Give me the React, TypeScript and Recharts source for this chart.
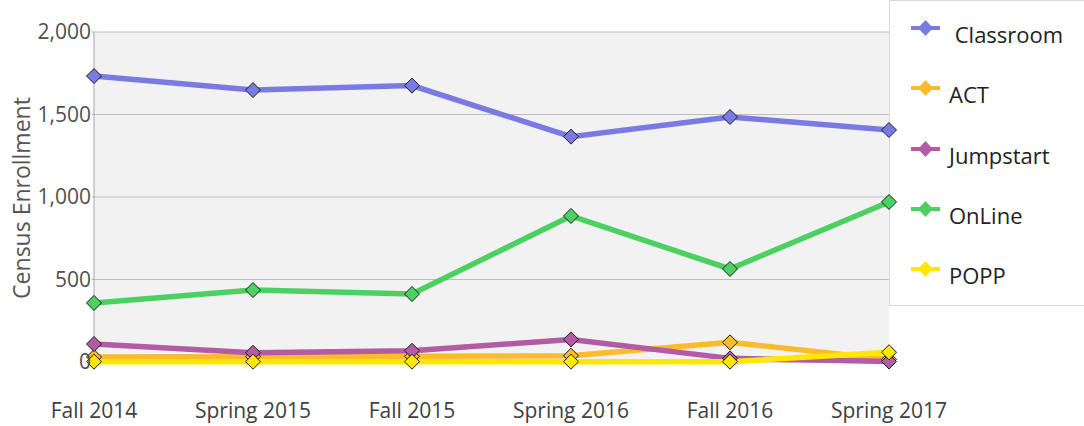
import React from 'react';
import { LineChart, Line, XAxis, YAxis, CartesianGrid, Legend } from 'recharts';

const categories = ['Fall 2014', 'Spring 2015', 'Fall 2015', 'Spring 2016', 'Fall 2016', 'Spring 2017'];
const classroom = [1733, 1648, 1675, 1366, 1485, 1406];
const act = [30, 32, 35, 38, 119, 16];
const jumpstart = [109, 56, 68, 137, 22, 3];
const online = [358, 436, 412, 885, 564, 970];
const popp = [2, 2, 2, 2, 2, 59];
const yTicks = [0, 500, 1000, 1500, 2000];

const seriesNames = [' Classroom', 'ACT', 'Jumpstart', 'OnLine', 'POPP'];
const seriesKeys = ['classroom', 'act', 'jumpstart', 'online', 'popp'];
const seriesColors = ['#7a7ae3', '#fbbb2b', '#b35ba4', '#4cd062', '#ffe800'];
const seriesValues = [classroom, act, jumpstart, online, popp];

const data = categories.map((cat, i) => {
  const row: Record<string, any> = { cat };
  seriesKeys.forEach((k, s) => {
    row[k] = seriesValues[s][i];
  });
  return row;
});

const FONT = '"Open Sans", "DejaVu Sans", sans-serif';

const makeDiamond = (color: string) => (props: any) => {
  const { cx, cy, index } = props;
  if (cx == null || cy == null) return <g key={`d-${index}`} />;
  const r = 7.5;
  return (
    <path
      key={`d-${index}`}
      d={`M${cx},${cy - r}L${cx + r},${cy}L${cx},${cy + r}L${cx - r},${cy}Z`}
      fill={color}
      stroke="#1c1c1c"
      strokeWidth={1}
    />
  );
};

const XTick = (props: any) => {
  const { x, y, payload } = props;
  return (
    <text x={x} y={y} dy={56} textAnchor="middle" fontSize={21} fill="#404040" fontFamily={FONT}>
      {payload.value}
    </text>
  );
};

const YTick = (props: any) => {
  const { x, y, payload } = props;
  return (
    <text
      x={x}
      y={y}
      dy={7}
      textAnchor="end"
      fontSize={21}
      fill="#505050"
      fontFamily={FONT}
    >
      {Number(payload.value).toLocaleString('en-US')}
    </text>
  );
};

const YLabel = (props: any) => {
  const vb = props.viewBox || { x: 0, y: 0, width: 0, height: 0 };
  const cx = vb.x + 21;
  const cy = vb.y + vb.height / 2 + 1;
  return (
    <text
      x={cx}
      y={cy}
      transform={`rotate(-90, ${cx}, ${cy})`}
      textAnchor="middle"
      dominantBaseline="central"
      fontSize={23}
      fill="#555555"
      fontFamily={FONT}
    >
      Census Enrollment
    </text>
  );
};

const LegendContent = () => (
  <div
    style={{
      position: 'absolute',
      left: 0,
      top: 0,
      width: 220,
      height: 306,
      border: '1px solid #d9d9d9',
      background: '#ffffff',
      boxSizing: 'border-box',
      fontFamily: FONT,
    }}
  >
    {seriesNames.map((name, i) => {
      const iconY = 27 + i * 60.3;
      return (
        <div key={name}>
          <svg
            width={32}
            height={18}
            style={{ position: 'absolute', left: 20, top: iconY - 9 }}
          >
            <line x1={1} y1={9} x2={30} y2={9} stroke={seriesColors[i]} strokeWidth={4} />
            <path d="M15.5,1L23,9L15.5,17L8,9Z" fill={seriesColors[i]} />
          </svg>
          <span
            style={{
              position: 'absolute',
              left: 59,
              top: iconY + 6 - 15,
              fontSize: 22,
              lineHeight: '30px',
              color: '#222222',
              whiteSpace: 'pre',
            }}
          >
            {name}
          </span>
        </div>
      );
    })}
  </div>
);

export default function App() {
  return (
    <div style={{ width: 1084, height: 426, fontFamily: FONT }}>
      <style>{`body{margin:0;}`}</style>
      <LineChart
        width={1084}
        height={426}
        data={data}
        margin={{ top: 32, right: 195, bottom: 0, left: 0 }}
        style={{ zIndex: 0, fontFamily: FONT }}
      >
        <CartesianGrid vertical={false} fill="#f2f2f2" stroke="#bdbdbd" fillOpacity={1} />
        <XAxis
          dataKey="cat"
          height={64}
          axisLine={false}
          tickLine={false}
          tickSize={0}
          tickMargin={0}
          interval={0}
          tick={<XTick />}
        />
        <YAxis
          width={94}
          domain={[0, 2000]}
          ticks={yTicks}
          interval={0}
          axisLine={{ stroke: '#a6a6a6' }}
          tickLine={{ stroke: '#a6a6a6' }}
          tickSize={2}
          tickMargin={1}
          tick={<YTick />}
          label={<YLabel />}
        />
        <YAxis
          yAxisId="right"
          orientation="right"
          width={0}
          domain={[0, 2000]}
          tick={false}
          tickLine={false}
          axisLine={{ stroke: '#cccccc' }}
        />
        {seriesKeys.map((k, i) => (
          <Line
            key={`line-${k}`}
            dataKey={k}
            stroke={seriesColors[i]}
            strokeWidth={5.5}
            dot={false}
            activeDot={false}
            legendType="none"
            isAnimationActive={false}
          />
        ))}
        {seriesKeys.map((k, i) => (
          <Line
            key={`dots-${k}`}
            dataKey={k}
            stroke="none"
            strokeWidth={0}
            dot={makeDiamond(seriesColors[i])}
            activeDot={false}
            legendType="none"
            isAnimationActive={false}
          />
        ))}
        <Legend
          layout="horizontal"
          verticalAlign="middle"
          align="right"
          wrapperStyle={{ position: 'absolute', left: 889, top: 0, width: 0, height: 0, overflow: 'visible', zIndex: -1 }}
          content={<LegendContent />}
        />
      </LineChart>
    </div>
  );
}
